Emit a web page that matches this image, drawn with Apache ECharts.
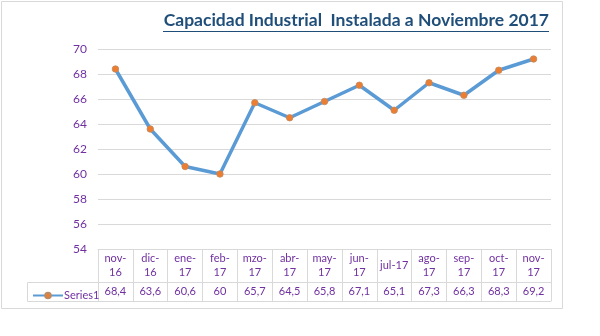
<!DOCTYPE html>
<html>
<head>
<meta charset="utf-8">
<script src="https://cdn.jsdelivr.net/npm/echarts@6/dist/echarts.min.js"></script>
<style>html,body{margin:0;padding:0;background:#fff;}#c{width:600px;height:336px;}</style>
</head>
<body>
<div id="c"></div>
<script>
const titleText = 'Capacidad Industrial  Instalada a Noviembre 2017';
const categories = ['nov-\n16','dic-\n16','ene-\n17','feb-\n17','mzo-\n17','abr-\n17','may-\n17','jun-\n17','jul-17','ago-\n17','sep-\n17','oct-\n17','nov-\n17'];
const series1 = [68.4, 63.6, 60.6, 60, 65.7, 64.5, 65.8, 67.1, 65.1, 67.3, 66.3, 68.3, 69.2];
const seriesName = 'Series1';
const yTicks = {min: 54, max: 70, interval: 2};

const purple = '#7030A0';
const gridGray = '#D9D9D9';
const font = 'Lato, "Open Sans", sans-serif';
const valueLabels = series1.map(v => String(v).replace('.', ','));

const chart = echarts.init(document.getElementById('c'), null, {renderer: 'canvas'});
chart.setOption({
  animation: false,
  backgroundColor: '#fff',
  legend: {
    left: 27, top: 285,
    itemWidth: 30, itemHeight: 7, itemGap: 2,
    textStyle: {fontFamily: font, fontSize: 11, color: purple, padding: [0,0,0,-4]},
    data: [seriesName]
  },
  grid: {left: 98, right: 49, top: 49, bottom: 87, containLabel: false},
  xAxis: [
    {
      type: 'category', data: categories, position: 'bottom', boundaryGap: true,
      axisLine: {show: true, lineStyle: {color: gridGray, width: 1}},
      axisTick: {show: true, length: 52, interval: 0, lineStyle: {color: gridGray, width: 1}},
      axisLabel: {interval: 0, margin: 16, verticalAlign: 'middle', lineHeight: 14, fontFamily: font, fontSize: 11, color: purple}
    },
    {
      type: 'category', data: valueLabels, position: 'bottom', offset: 33, boundaryGap: true,
      axisLine: {show: true, lineStyle: {color: gridGray, width: 1}},
      axisTick: {show: false},
      axisLabel: {interval: 0, margin: 9.5, verticalAlign: 'middle', fontFamily: font, fontSize: 11, color: purple}
    },
    {
      type: 'category', data: valueLabels, position: 'bottom', offset: 52, boundaryGap: true,
      axisLine: {show: true, lineStyle: {color: gridGray, width: 1}},
      axisTick: {show: false}, axisLabel: {show: false}
    }
  ],
  yAxis: {
    type: 'value', min: yTicks.min, max: yTicks.max, interval: yTicks.interval,
    axisLine: {show: false}, axisTick: {show: false},
    axisLabel: {margin: 11, fontFamily: font, fontSize: 12, color: purple},
    splitLine: {lineStyle: {color: gridGray, width: 1}}
  },
  series: [{
    name: seriesName, type: 'line', data: series1, xAxisIndex: 0,
    symbol: 'circle', symbolSize: 6.5,
    lineStyle: {color: '#5B9BD5', width: 3.5},
    itemStyle: {color: '#ED7D31', borderColor: '#C08A60', borderWidth: 0.8},
    color: '#5B9BD5'
  }],
  graphic: [
    {type: 'rect', shape: {x: 1.5, y: 1.5, width: 561, height: 307}, style: {fill: 'none', stroke: gridGray, lineWidth: 1}, silent: true, z: -1},
    {type: 'text', x: 549, y: 29, style: {text: titleText, textAlign: 'right', textVerticalAlign: 'bottom', fontFamily: font, fontWeight: 'bold', fontSize: 17.5, fill: '#1F4E79'}},
    {type: 'line', shape: {x1: 163, y1: 31.5, x2: 549, y2: 31.5}, style: {stroke: '#1F4E79', lineWidth: 1.2}},
    {type: 'line', shape: {x1: 27.5, y1: 282.5, x2: 98, y2: 282.5}, style: {stroke: gridGray, lineWidth: 1}},
    {type: 'line', shape: {x1: 27.5, y1: 301.5, x2: 98, y2: 301.5}, style: {stroke: gridGray, lineWidth: 1}},
    {type: 'line', shape: {x1: 27.5, y1: 282.5, x2: 27.5, y2: 301.5}, style: {stroke: gridGray, lineWidth: 1}}
  ]
});
</script>
</body>
</html>
